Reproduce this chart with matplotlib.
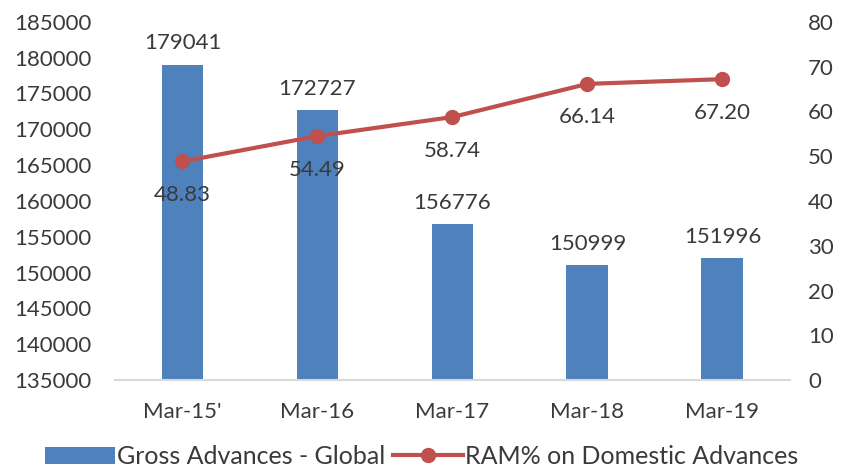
import matplotlib.pyplot as plt
import numpy as np

plt.rcParams['font.family'] = ['Lato', 'DejaVu Sans']

categories = ["Mar-15'", "Mar-16", "Mar-17", "Mar-18", "Mar-19"]
gross_advances = [179041, 172727, 156776, 150999, 151996]
ram_pct = [48.83, 54.49, 58.74, 66.14, 67.20]

bar_color = '#4F81BD'
line_color = '#C0504D'
text_color = '#3A3A3A'
fs = 16

fig = plt.figure(figsize=(8.43, 4.74), dpi=100)
ax = fig.add_axes([0.1364, 0.198, 0.8006, 0.756])
x = np.arange(len(categories))

bars = ax.bar(x, gross_advances, width=0.31, color=bar_color,
              label='Gross Advances - Global', zorder=2)
ax.set_ylim(135000, 185000)
ax.set_yticks(np.arange(135000, 185001, 5000))
ax.set_xlim(-0.5, len(categories) - 0.5)
ax.set_xticks(x)
ax.set_xticklabels(categories)
for xi, v in zip(x, gross_advances):
    ax.annotate(f'{v}', (xi, v), xytext=(0, 8), textcoords='offset points',
                ha='center', va='bottom', fontsize=fs, color=text_color)

ax2 = ax.twinx()
line, = ax2.plot(x, ram_pct, color=line_color, lw=3, marker='o', ms=10,
                 label='RAM% on Domestic Advances', zorder=3)
ax2.set_ylim(0, 80)
ax2.set_yticks(np.arange(0, 81, 10))
for xi, v in zip(x, ram_pct):
    ax2.annotate(f'{v:.2f}', (xi, v), xytext=(0, -17), textcoords='offset points',
                 ha='center', va='top', fontsize=fs, color=text_color)

for a in (ax, ax2):
    for s in a.spines.values():
        s.set_visible(False)
    a.tick_params(length=0, labelsize=fs, colors=text_color)
ax.spines['bottom'].set_visible(True)
ax.spines['bottom'].set_color('#D9D9D9')
ax.spines['bottom'].set_linewidth(1.5)
ax.tick_params(axis='x', pad=16)
ax.tick_params(axis='y', pad=17)
ax2.tick_params(axis='y', pad=13)

fig.legend([bars, line], [bars.get_label(), line.get_label()], loc='lower center',
           bbox_to_anchor=(0.5, -0.035), ncol=2, frameon=False, fontsize=18,
           labelcolor=text_color, handlelength=2.8, handleheight=0.7,
           handletextpad=0.1, columnspacing=0.3)

fig.savefig('out.png', dpi=100)
